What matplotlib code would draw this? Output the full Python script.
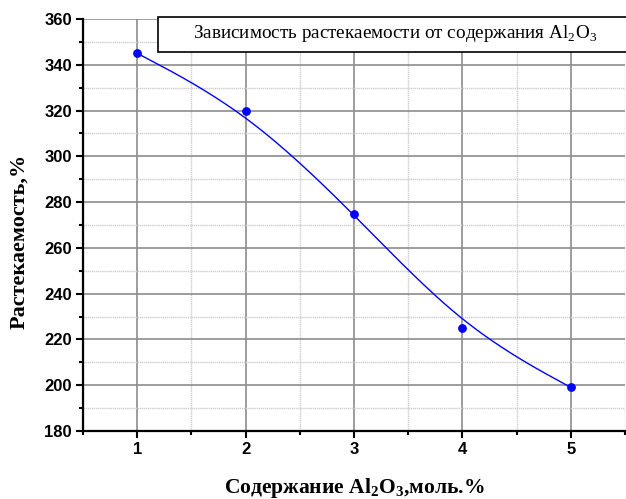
import numpy as np
import matplotlib
matplotlib.use("Agg")
import matplotlib.pyplot as plt
from matplotlib.patches import Rectangle
from matplotlib.ticker import MultipleLocator

plt.rcParams['mathtext.fontset'] = 'custom'
plt.rcParams['mathtext.rm'] = 'Liberation Serif'
plt.rcParams['mathtext.bf'] = 'Liberation Serif:bold'

# data
content = [1, 2, 3, 4, 5]          # Al2O3, mol.%
spreading = [345, 320, 275, 225, 199]  # %

title = "Зависимость растекаемости от содержания Al$_2$O$_3$"
xlabel = r"Содержание Al$_\mathbf{2}$O$_\mathbf{3}$,моль.%"
ylabel = "Растекаемость,%"


def bspline(px, py, n=40):
    # uniform cubic B-spline, end control points tripled (Origin style)
    px = np.r_[px[0], px[0], px, px[-1], px[-1]]
    py = np.r_[py[0], py[0], py, py[-1], py[-1]]
    M = np.array([[-1, 3, -3, 1], [3, -6, 3, 0], [-3, 0, 3, 0], [1, 4, 1, 0]]) / 6.0
    t = np.linspace(0, 1, n)
    T = np.vstack([t**3, t**2, t, np.ones_like(t)]).T
    xs, ys = [], []
    for i in range(len(px) - 3):
        xs.append(T @ M @ px[i:i + 4])
        ys.append(T @ M @ py[i:i + 4])
    return np.concatenate(xs), np.concatenate(ys)


fig = plt.figure(figsize=(6.26, 4.99), dpi=100)
ax = fig.add_axes([0.1326, 0.1363, 0.866, 0.8257])

sx, sy = bspline(np.array(content, float), np.array(spreading, float))
ax.plot(sx, sy, color="#0000ff", lw=1.0, zorder=3)
ax.plot(content, spreading, "o", color="#0000ff", ms=5.3, zorder=4)

ax.set_xlim(0.5, 5.5)
ax.set_ylim(180, 360)
ax.xaxis.set_major_locator(MultipleLocator(1))
ax.xaxis.set_minor_locator(MultipleLocator(0.5))
ax.yaxis.set_major_locator(MultipleLocator(20))
ax.yaxis.set_minor_locator(MultipleLocator(10))

ax.grid(which="major", color="#8c8c8c", lw=1.2)
ax.grid(which="minor", color="#cfcfcf", lw=1.0, ls=(0, (1, 0.5)))
ax.set_axisbelow(True)

for s in ["top", "right"]:
    ax.spines[s].set_visible(False)
for s in ["left", "bottom"]:
    ax.spines[s].set_linewidth(1.6)

ax.tick_params(which="major", direction="out", length=5, width=1.5, pad=3)
ax.tick_params(which="minor", direction="out", length=3, width=1.5)
for lab in ax.get_xticklabels() + ax.get_yticklabels():
    lab.set_fontfamily("Liberation Sans")
    lab.set_fontweight("bold")
    lab.set_fontsize(12)

ax.set_xlabel(xlabel, family="Liberation Serif", weight="bold", fontsize=15.5)
ax.xaxis.set_label_coords(0.5, -0.11)
ax.set_ylabel(ylabel, family="Liberation Serif", weight="bold", fontsize=16)
ax.yaxis.set_label_coords(-0.1, 0.46)

# title box in the top right corner
W, H = 626, 499
fig.patches.append(Rectangle((158 / W, 1 - 52 / H), 0.8, 35 / H, transform=fig.transFigure,
                             facecolor="white", edgecolor="black", lw=1.2, zorder=5))
fig.text(395 / W, 1 - 34 / H, title, family="Liberation Serif", fontsize=13.8,
         ha="center", va="center", zorder=6)

fig.savefig("out.png", dpi=100)
